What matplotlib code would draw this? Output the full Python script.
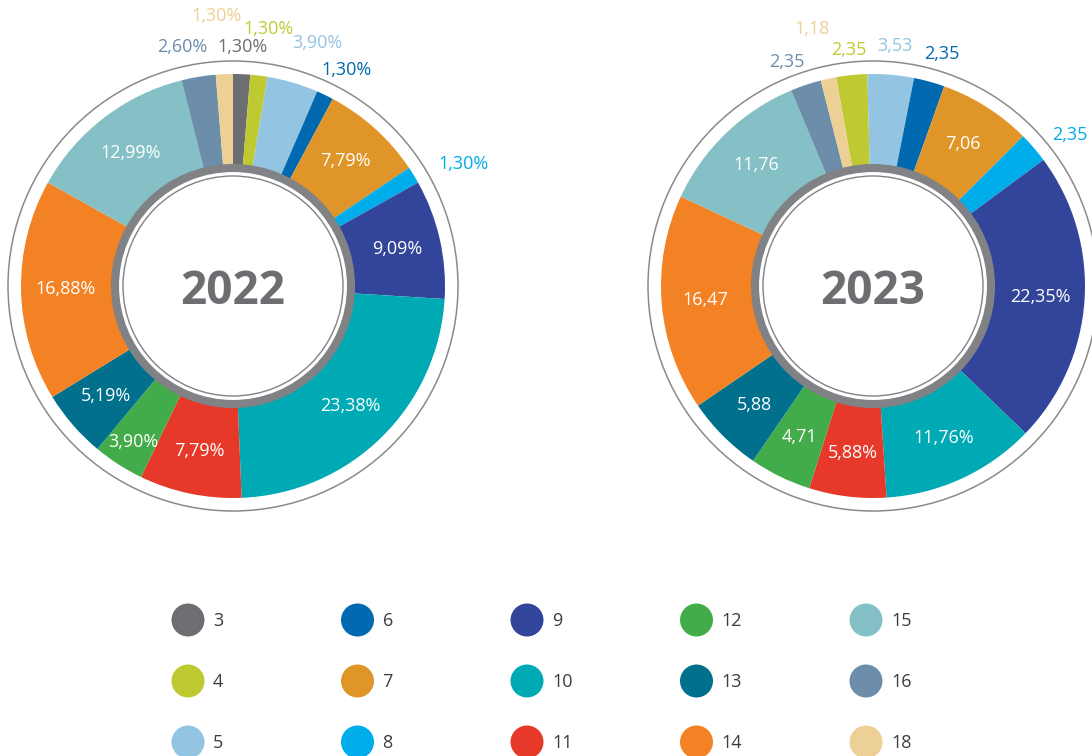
import numpy as np
import matplotlib
matplotlib.use("Agg")
import matplotlib.pyplot as plt
from matplotlib.patches import Circle

W, H = 1092, 756

categorias = ["3", "4", "5", "6", "7", "8", "9", "10", "11", "12", "13", "14", "15", "16", "18"]
cores = ["#6d6e71", "#bfca32", "#93c4e2", "#0069b0", "#e09528", "#00adeb", "#33449b",
         "#00aab5", "#e6392a", "#42ac4a", "#00708c", "#f28223", "#84c0c5", "#6d8eaa", "#edd096"]

valores_2022 = [1.30, 1.30, 3.90, 1.30, 7.79, 1.30, 9.09, 23.38, 7.79, 3.90, 5.19, 16.88, 12.99, 2.60, 1.30]
rotulos_2022 = ["1,30%", "1,30%", "3,90%", "1,30%", "7,79%", "1,30%", "9,09%", "23,38%",
                "7,79%", "3,90%", "5,19%", "16,88%", "12,99%", "2,60%", "1,30%"]

valores_2023 = [0.0, 2.35, 3.53, 2.35, 7.06, 2.35, 22.35, 11.76, 5.88, 4.71, 5.88, 16.47, 11.76, 2.35, 1.18]
rotulos_2023 = ["", "2,35", "3,53", "2,35", "7,06", "2,35", "22,35%", "11,76%",
                "5,88%", "4,71", "5,88", "16,47", "11,76", "2,35", "1,18"]

# rótulos externos (posição em pixels da imagem)
externos_2022 = {"3": (243, 47), "4": (269, 29), "5": (317, 43), "6": (347, 70),
                 "8": (464, 164), "16": (182, 47), "18": (217, 16)}
externos_2023 = {"4": (849, 50), "5": (895, 46), "6": (942, 54),
                 "8": (1070, 135), "16": (787, 62), "18": (812, 29)}

FONTE = ["Open Sans", "DejaVu Sans"]
CINZA = "#6d6e71"
TAM = 13


def Y(y):
    return H - y


def rosca(ax, valores, rotulos, externos, centro, inicio, ano):
    cx, cy = centro
    R = 212
    ax.pie(valores, colors=cores, startangle=inicio, counterclock=False, radius=R,
           center=(cx, Y(cy)), wedgeprops=dict(width=R - 110, linewidth=0), frame=True)
    # aro externo fino
    ax.add_patch(Circle((cx, Y(cy)), 225, fill=False, ec="#8a8a8a", lw=1.1))
    # miolo branco com aro cinza
    ax.add_patch(Circle((cx, Y(cy)), 118, fc="white", ec="#808285", lw=5.8, zorder=3))
    ax.add_patch(Circle((cx, Y(cy)), 110, fill=False, ec="#808285", lw=1.0, zorder=4))
    ax.text(cx, Y(cy + 6), ano, ha="center", va="center", fontsize=33, fontweight="bold",
            color=CINZA, family=FONTE, zorder=5)

    total = sum(valores)
    acum = 0.0
    for cat, v, rot, cor in zip(categorias, valores, rotulos, cores):
        meio = inicio - 360 * (acum + v / 2) / total
        acum += v
        if v == 0:
            continue
        if cat in externos:
            x, y = externos[cat]
            ax.text(x, Y(y), rot, ha="center", va="center", fontsize=TAM, color=cor,
                    family=FONTE)
        else:
            r = 185 if (ano == "2022" and cat == "12") else 168
            x = cx + r * np.cos(np.radians(meio))
            y = Y(cy) + r * np.sin(np.radians(meio))
            ax.text(x, y, rot, ha="center", va="center", fontsize=TAM, color="white",
                    family=FONTE, zorder=2)


fig = plt.figure(figsize=(W / 100, H / 100), dpi=100)
ax = fig.add_axes([0, 0, 1, 1])

rosca(ax, valores_2022, rotulos_2022, externos_2022, (233, 286), 90, "2022")
rosca(ax, valores_2023, rotulos_2023, externos_2023, (873, 286), 100, "2023")

# legenda em 5 colunas x 3 linhas
for i, (cat, cor) in enumerate(zip(categorias, cores)):
    lx = 188 + (i // 3) * 169.5
    ly = 620 + (i % 3) * 61
    ax.add_patch(Circle((lx, Y(ly)), 16.5, fc=cor, ec="none"))
    ax.text(lx + 25, Y(ly + 1), cat, ha="left", va="center", fontsize=TAM,
            color="#3c3c3c", family=FONTE)

ax.set_xlim(0, W)
ax.set_ylim(0, H)
ax.set_aspect("equal")
ax.axis("off")

fig.savefig("out.png", dpi=100, facecolor="white")
